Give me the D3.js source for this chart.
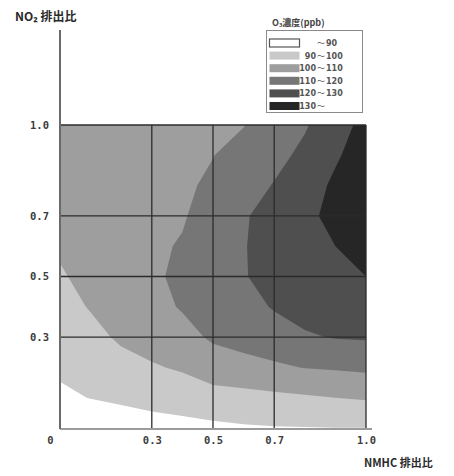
<!DOCTYPE html>
<html><head><meta charset="utf-8">
<script src="https://cdn.jsdelivr.net/npm/d3@7/dist/d3.min.js"></script>
<style>body{margin:0;background:#fff}</style>
</head><body>
<svg id="c" width="454" height="476"></svg>
<script>
// ---- data ----
const xGrid = [0, 0.1, 0.2, 0.3, 0.4, 0.5, 0.6, 0.7, 0.8, 0.9, 1.0];   // NMHC 排出比
const yGrid = [0, 0.1, 0.2, 0.3, 0.4, 0.5, 0.6, 0.7, 0.8, 0.9, 1.0];   // NO2 排出比
// O3 concentration (ppb), one row per NO2 level (bottom to top), columns follow xGrid
const o3Row00 = [80, 82, 84, 86, 87, 88, 89, 89.5, 89.7, 89.9, 89.9];
const o3Row01 = [88, 90.3, 91.9, 93.4, 94.5, 96.3, 97, 97.9, 98.9, 100, 100.9];
const o3Row02 = [91.8, 93.8, 96.7, 99.1, 101.1, 105.1, 106.7, 108.5, 110.3, 111, 112];
const o3Row03 = [94.3, 97.2, 101.5, 104, 106.8, 111.4, 113.7, 116, 119.1, 120.5, 120.9];
const o3Row04 = [96.8, 100.6, 104, 107, 110.8, 113.7, 116.9, 120.7, 123, 124, 125.5];
const o3Row05 = [99.3, 102, 106, 109, 111.3, 115.7, 119.6, 122.3, 124.9, 127, 130];
const o3Row06 = [100.9, 103, 106, 108.5, 110.7, 115.3, 119.6, 123.1, 126.6, 130, 133];
const o3Row07 = [102.2, 104, 105.7, 107.5, 109.2, 114.1, 119.1, 123.6, 128.3, 132, 135];
const o3Row08 = [103.4, 104.8, 105.7, 107, 108.5, 111.6, 116, 120.5, 126, 131.5, 135];
const o3Row09 = [104.7, 105.6, 106, 107, 108.2, 109.8, 113.5, 117.3, 122.1, 129, 134];
const o3Row10 = [106, 106.5, 107, 107.5, 108, 108.8, 109.7, 114.1, 119.1, 125.8, 133];
const o3Rows = [o3Row00, o3Row01, o3Row02, o3Row03, o3Row04, o3Row05, o3Row06, o3Row07, o3Row08, o3Row09, o3Row10];

const thresholds = [90, 100, 110, 120, 130];
const legendFrom = ["", "90", "100", "110", "120", "130"];
const legendTo   = ["90", "100", "110", "120", "130", ""];
const xTicks = [0, 0.3, 0.5, 0.7, 1.0];
const xTickLabels = ["0", "0.3", "0.5", "0.7", "1.0"];
const yTicks = [0.3, 0.5, 0.7, 1.0];
const yTickLabels = ["0.3", "0.5", "0.7", "1.0"];
const xTitle = "NMHC 排出比";
const yTitle = "NO₂ 排出比";
const legendTitle = "O₃濃度(ppb)";

// ---- styles ----
const bandColors = ["#ffffff", "#c9c9c9", "#9e9e9e", "#767676", "#4f4f4f", "#262626"];

const svg = d3.select("#c");
const x = d3.scaleLinear().domain([0, 1]).range([60, 366]);
const y = d3.scaleLinear().domain([0, 1]).range([428, 125]);

svg.append("defs").append("clipPath").attr("id", "plotclip")
  .append("rect").attr("x", x(0)).attr("y", y(1))
  .attr("width", x(1) - x(0)).attr("height", y(0) - y(1));

const plot = svg.append("g").attr("clip-path", "url(#plotclip)");
plot.append("rect").attr("x", x(0)).attr("y", y(1))
  .attr("width", x(1) - x(0)).attr("height", y(0) - y(1)).attr("fill", bandColors[0]);

const nx = xGrid.length, ny = yGrid.length;
const values = o3Rows.flat();
const contours = d3.contours().size([nx, ny]).thresholds(thresholds)(values);
const gx = d3.scaleLinear().domain([0.5, nx - 0.5]).range([xGrid[0], xGrid[nx - 1]]);
const gy = d3.scaleLinear().domain([0.5, ny - 0.5]).range([yGrid[0], yGrid[ny - 1]]);
const proj = d3.geoTransform({ point(px, py) { this.stream.point(x(gx(px)), y(gy(py))); } });
const path = d3.geoPath(proj);

plot.selectAll("path.band").data(contours).join("path")
  .attr("class", "band")
  .attr("d", path)
  .attr("fill", (d, i) => bandColors[i + 1])
  .attr("stroke", "none");

// grid lines
const grid = svg.append("g").attr("stroke", "#2b2b2b").attr("stroke-width", 1.3);
grid.selectAll("line.vx").data(xTicks.filter(v => v > 0)).join("line")
  .attr("x1", d => x(d)).attr("x2", d => x(d)).attr("y1", y(0)).attr("y2", y(1));
grid.selectAll("line.hy").data(yTicks).join("line")
  .attr("x1", x(0)).attr("x2", x(1)).attr("y1", d => y(d)).attr("y2", d => y(d));

// axes lines
svg.append("line").attr("x1", x(0)).attr("x2", x(0)).attr("y1", 30).attr("y2", y(0) + 1)
  .attr("stroke", "#6a6a6a").attr("stroke-width", 2);
svg.append("line").attr("x1", x(0)).attr("x2", 372).attr("y1", y(0) + 1).attr("y2", y(0) + 1)
  .attr("stroke", "#7a7a7a").attr("stroke-width", 1.6);

const tickFont = "'DejaVu Sans Mono', monospace";
// y axis tick labels
const yAxis = d3.axisLeft(y).tickValues(yTicks).tickSize(0).tickPadding(11)
  .tickFormat((d, i) => yTickLabels[i]);
const gyA = svg.append("g").attr("transform", `translate(${x(0)},0)`).call(yAxis);
gyA.select(".domain").remove();
gyA.selectAll("text").attr("font-family", tickFont).attr("font-weight", "bold")
  .attr("font-size", 10.5).attr("fill", "#3c3c3c");

// x axis tick labels
const xAxis = d3.axisBottom(x).tickValues(xTicks).tickSize(0).tickPadding(9)
  .tickFormat((d, i) => xTickLabels[i]);
const gxA = svg.append("g").attr("transform", `translate(0,${y(0)})`).call(xAxis);
gxA.select(".domain").remove();
gxA.selectAll("text").attr("font-family", tickFont).attr("font-weight", "bold")
  .attr("font-size", 10.5).attr("fill", "#3c3c3c")
  .attr("dx", d => d === 0 ? -10 : 0);

// titles
const cjk = "'Noto Sans CJK JP', 'Noto Sans', sans-serif";
svg.append("text").attr("x", 15).attr("y", 21).text(yTitle)
  .attr("font-family", cjk).attr("font-weight", "bold").attr("font-size", 12).attr("fill", "#2a2a2a");
svg.append("text").attr("x", 364).attr("y", 467).text(xTitle)
  .attr("font-family", cjk).attr("font-weight", "bold").attr("font-size", 11).attr("fill", "#2a2a2a");

// legend
const lg = svg.append("g");
lg.append("text").attr("x", 272).attr("y", 26).text(legendTitle)
  .attr("font-family", cjk).attr("font-size", 9).attr("font-weight", "bold").attr("fill", "#444");
lg.append("rect").attr("x", 266.5).attr("y", 30.5).attr("width", 96).attr("height", 82)
  .attr("fill", "#fff").attr("stroke", "#8a8a8a").attr("stroke-width", 1);
const rowY = d3.scaleLinear().domain([0, 5]).range([43, 106]);
const rows = lg.selectAll("g.row").data(bandColors).join("g").attr("class", "row")
  .attr("transform", (d, i) => `translate(0,${rowY(i)})`);
rows.append("rect").attr("x", 269.5).attr("y", -4).attr("width", 30).attr("height", 8)
  .attr("fill", d => d).attr("stroke", (d, i) => i === 0 ? "#555" : "none").attr("stroke-width", 1.2);
const lblFont = { family: "'DejaVu Sans', sans-serif", size: 8 };
rows.append("text").attr("x", 316).attr("y", 3).attr("text-anchor", "end")
  .text((d, i) => legendFrom[i]).attr("font-family", lblFont.family).attr("font-size", lblFont.size)
  .attr("font-weight", "bold").attr("fill", "#555");
rows.append("text").attr("x", 321).attr("y", 3).attr("text-anchor", "middle")
  .text("～").attr("font-family", cjk).attr("font-size", lblFont.size).attr("fill", "#555");
rows.append("text").attr("x", 326).attr("y", 3)
  .text((d, i) => legendTo[i]).attr("font-family", lblFont.family).attr("font-size", lblFont.size)
  .attr("font-weight", "bold").attr("fill", "#555");
</script>
</body></html>
